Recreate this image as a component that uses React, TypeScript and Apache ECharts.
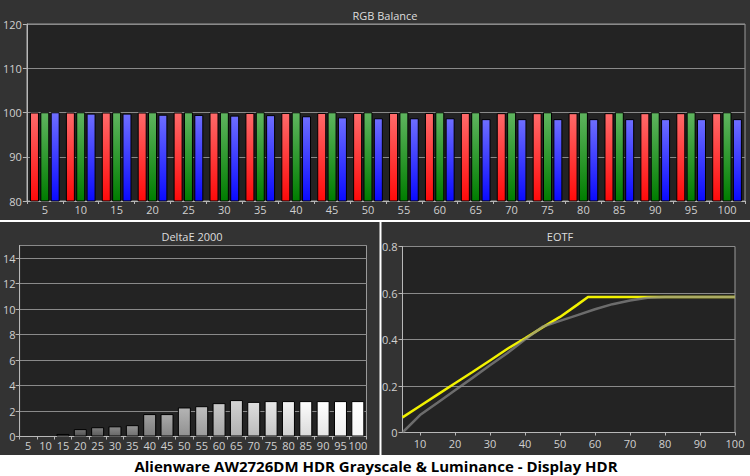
import React, { useEffect, useRef } from "react";
import * as echarts from "echarts";

// ---- Data ----
const rgbCategories = ["5", "10", "15", "20", "25", "30", "35", "40", "45", "50", "55", "60", "65", "70", "75", "80", "85", "90", "95", "100"];
const redValues = [100.0, 100.0, 100.0, 100.0, 100.0, 100.0, 99.9, 99.9, 99.9, 99.9, 99.9, 99.9, 99.9, 99.85, 99.85, 99.85, 99.85, 99.85, 99.85, 99.85];
const greenValues = [100.05, 100.05, 100.05, 100.05, 100.05, 100.05, 100.05, 100.05, 100.05, 100.05, 100.05, 100.05, 100.05, 100.05, 100.05, 100.05, 100.05, 100.05, 100.05, 100.05];
const blueValues = [100.05, 99.75, 99.75, 99.5, 99.45, 99.3, 99.4, 99.15, 98.9, 98.7, 98.7, 98.7, 98.5, 98.5, 98.5, 98.5, 98.5, 98.5, 98.5, 98.5];

const deltaCategories = rgbCategories;
const deltaValues = [0, 0, 0.2, 0.58, 0.73, 0.8, 0.89, 1.76, 1.76, 2.28, 2.38, 2.62, 2.86, 2.72, 2.78, 2.78, 2.78, 2.78, 2.78, 2.78];

const measuredX = [5, 10, 15, 20, 25, 30, 35, 40, 45, 50, 55, 58, 60, 65, 70, 75, 80, 85, 90, 95, 100];
const measuredY = [0.065, 0.114, 0.163, 0.212, 0.26, 0.31, 0.36, 0.405, 0.452, 0.497, 0.55, 0.583, 0.583, 0.583, 0.583, 0.583, 0.583, 0.583, 0.583, 0.583, 0.583];
const targetX = [5, 10, 15, 20, 25, 30, 35, 40, 45, 50, 55, 60, 65, 70, 75, 80, 85, 90, 95, 100];
const targetY = [0, 0.075, 0.128, 0.182, 0.235, 0.289, 0.342, 0.4, 0.455, 0.48, 0.505, 0.53, 0.552, 0.568, 0.58, 0.583, 0.583, 0.583, 0.583, 0.583];
const eotfXTicks = [10, 20, 30, 40, 50, 60, 70, 80, 90, 100];

const titleTop = "RGB Balance";
const titleDelta = "DeltaE 2000";
const titleEotf = "EOTF";
const mainTitle = "Alienware AW2726DM HDR Grayscale & Luminance - Display HDR";

const FONT = "Open Sans";
const LABEL = "#d0d0d0";
const AXIS = "#b8b8b8";
const SPLIT = "#8a8a8a";

function grad(top: string, bottom: string) {
  return new echarts.graphic.LinearGradient(0, 0, 0, 1, [
    { offset: 0, color: top },
    { offset: 1, color: bottom },
  ]);
}

export default function App() {
  const ref = useRef<HTMLDivElement>(null);
  useEffect(() => {
    if (!ref.current) return;
    const chart = echarts.init(ref.current, undefined, { renderer: "svg" });

    const axisLabel = { color: LABEL, fontSize: 11, fontFamily: FONT };

    const option: any = {
      animation: false,
      backgroundColor: "#ffffff",
      graphic: [
        { type: "rect", z: -10, shape: { x: 0, y: 0, width: 750, height: 220 }, style: { fill: "#333333" } },
        { type: "rect", z: -10, shape: { x: 0, y: 222, width: 379.5, height: 233 }, style: { fill: "#333333" } },
        { type: "rect", z: -10, shape: { x: 381.5, y: 222, width: 368.5, height: 233 }, style: { fill: "#333333" } },
        { type: "text", x: 385, y: 15, style: { text: titleTop, align: "center", verticalAlign: "middle", fill: "#dddddd", font: `11px "${FONT}"` } },
        { type: "text", x: 192, y: 236, style: { text: titleDelta, align: "center", verticalAlign: "middle", fill: "#dddddd", font: `11px "${FONT}"` } },
        { type: "text", x: 560, y: 236, style: { text: titleEotf, align: "center", verticalAlign: "middle", fill: "#dddddd", font: `11px "${FONT}"` } },
        { type: "text", x: 376, y: 465.5, style: { text: mainTitle, align: "center", verticalAlign: "middle", fill: "#000000", font: `bold 15px "${FONT}"` } },
      ],
      grid: [
        { left: 26, top: 24, width: 719, height: 177, show: true, backgroundColor: "#232323", borderColor: "#9a9a9a", borderWidth: 1 },
        { left: 19, top: 245.5, width: 347.5, height: 191, show: true, backgroundColor: "#232323", borderColor: "#9a9a9a", borderWidth: 1 },
        { left: 402.5, top: 246.5, width: 332.5, height: 186, show: true, backgroundColor: "#232323", borderColor: "#9a9a9a", borderWidth: 1 },
      ],
      xAxis: [
        {
          gridIndex: 0, type: "category", data: rgbCategories,
          axisLine: { lineStyle: { color: AXIS } },
          axisTick: { show: true, length: 3, lineStyle: { color: AXIS } },
          axisLabel: { ...axisLabel, margin: 3 },
          splitLine: { show: false },
        },
        {
          gridIndex: 1, type: "category", data: deltaCategories,
          axisLine: { lineStyle: { color: AXIS } },
          axisTick: { show: true, length: 3, lineStyle: { color: AXIS } },
          axisLabel: { ...axisLabel, margin: 3, interval: 0 },
          splitLine: { show: false },
        },
        {
          gridIndex: 2, type: "value", min: 5, max: 100, interval: 5,
          axisLine: { lineStyle: { color: AXIS } },
          axisTick: { show: true, length: 3, lineStyle: { color: AXIS }, customValues: eotfXTicks },
          axisLabel: { ...axisLabel, margin: 5, customValues: eotfXTicks },
          splitLine: { show: false },
        },
      ],
      yAxis: [
        {
          gridIndex: 0, type: "value", min: 80, max: 120, interval: 10,
          axisLine: { show: true, lineStyle: { color: AXIS } },
          axisTick: { show: true, length: 4, lineStyle: { color: AXIS } },
          axisLabel: { ...axisLabel, margin: 5 },
          splitLine: { show: true, lineStyle: { color: SPLIT, width: 1 } },
        },
        {
          gridIndex: 1, type: "value", min: 0, max: 15, interval: 2,
          axisLine: { show: true, lineStyle: { color: AXIS } },
          axisTick: { show: true, length: 4, lineStyle: { color: AXIS } },
          axisLabel: { ...axisLabel, margin: 4, showMaxLabel: false, formatter: (v: number) => (v > 14 ? "" : String(v)) },
          splitLine: { show: true, lineStyle: { color: SPLIT, width: 1 } },
        },
        {
          gridIndex: 2, type: "value", min: 0, max: 0.8, interval: 0.2,
          axisLine: { show: true, lineStyle: { color: AXIS } },
          axisTick: { show: true, length: 4, lineStyle: { color: AXIS } },
          axisLabel: { ...axisLabel, margin: 5, formatter: (v: number) => (v === 0 ? "0" : v.toFixed(1)) },
          splitLine: { show: true, lineStyle: { color: SPLIT, width: 1 } },
        },
      ],
      series: [
        {
          type: "bar", xAxisIndex: 0, yAxisIndex: 0, data: redValues, barWidth: 9, barGap: "15%",
          itemStyle: { color: grad("#ff6a6a", "#ff0a0a"), borderColor: "#000", borderWidth: 1 },
        },
        {
          type: "bar", xAxisIndex: 0, yAxisIndex: 0, data: greenValues, barWidth: 9, barGap: "15%",
          itemStyle: { color: grad("#5fb55f", "#007d00"), borderColor: "#000", borderWidth: 1 },
        },
        {
          type: "bar", xAxisIndex: 0, yAxisIndex: 0, data: blueValues, barWidth: 9, barGap: "15%",
          itemStyle: { color: grad("#6e6eff", "#0a0aff"), borderColor: "#000", borderWidth: 1 },
        },
        {
          type: "bar", xAxisIndex: 1, yAxisIndex: 1, barWidth: 13,
          data: deltaValues.map((v, i) => {
            const lvl = Math.min(255, 60 + i * 10.5);
            const top = Math.min(255, Math.round(lvl + 25));
            const bot = Math.round(lvl - 10);
            return {
              value: v,
              itemStyle: {
                color: grad(`rgb(${top},${top},${top})`, `rgb(${bot},${bot},${bot})`),
                borderColor: "#000", borderWidth: v > 0 ? 1 : 0,
                opacity: v > 0 ? 1 : 0,
              },
            };
          }),
        },
        {
          type: "line", xAxisIndex: 2, yAxisIndex: 2, symbol: "none", z: 3,
          data: measuredX.map((x, i) => [x, measuredY[i]]),
          lineStyle: { color: "#f2f200", width: 2.5 },
        },
        {
          type: "line", xAxisIndex: 2, yAxisIndex: 2, symbol: "none", z: 4,
          data: targetX.map((x, i) => [x, targetY[i]]),
          lineStyle: { color: "rgba(140,140,140,0.7)", width: 2.5 },
        },
      ],
    };

    chart.setOption(option);
    return () => chart.dispose();
  }, []);

  return (
    <div
      ref={ref}
      style={{ position: "fixed", left: 0, top: 0, width: 750, height: 476 }}
    />
  );
}
